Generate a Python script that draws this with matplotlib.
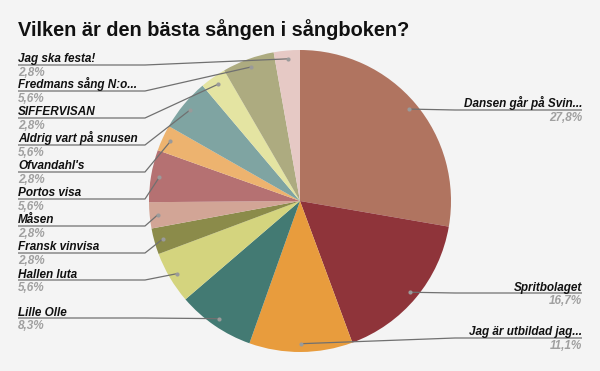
import numpy as np
import matplotlib
matplotlib.use("Agg")
import matplotlib.pyplot as plt

# data, in drawing order (clockwise from 12 o'clock)
songs = ["Dansen går på Svin...", "Spritbolaget", "Jag är utbildad jag...",
         "Lille Olle", "Hallen luta", "Fransk vinvisa", "Måsen", "Portos visa",
         "Ofvandahl's", "Aldrig vart på snusen", "SIFFERVISAN",
         "Fredmans sång N:o...", "Jag ska festa!"]
shares = [27.8, 16.7, 11.1, 8.3, 5.6, 2.8, 2.8, 5.6, 2.8, 5.6, 2.8, 5.6, 2.8]
colors = ["#B07460", "#8F343A", "#E89C3D", "#437A73", "#D4D47E", "#8B8B4A",
          "#D2A596", "#B57172", "#EDB36F", "#7FA4A2", "#E4E4A2", "#ADAB80",
          "#E6C9C5"]

# layout (pixels): label underline heights and which side they go on
right_side = [True, True, True] + [False] * 10
label_y = [110, 293, 338, 318, 280, 253, 226, 199, 172, 145, 118, 91, 65]

W, H = 600, 371
CX, CY, R = 300, 201, 151
BG = "#F4F4F4"
FS = 8.5

plt.rcParams["font.family"] = ["Liberation Sans", "DejaVu Sans"]


def px(x, y):
    return (x - CX) / R, (CY - y) / R


fig = plt.figure(figsize=(W / 100, H / 100), dpi=100, facecolor=BG)
ax = fig.add_axes([0, 0, 1, 1])
ax.set_facecolor(BG)

wedges, _ = ax.pie(shares, colors=colors, startangle=90, counterclock=False,
                   radius=1, wedgeprops=dict(edgecolor="none"))

# pie() resets the limits, so set them afterwards
ax.set_xlim(-CX / R, (W - CX) / R)
ax.set_ylim(-(H - CY) / R, CY / R)
ax.set_aspect("equal")
ax.axis("off")

for w, name, val, right, yu in zip(wedges, songs, shares, right_side, label_y):
    mid = np.deg2rad((w.theta1 + w.theta2) / 2)
    dx, dy = 0.945 * np.cos(mid), 0.945 * np.sin(mid)
    if right:
        x_text, x_elbow, ha = 582, 455, "right"
    else:
        x_text, x_elbow, ha = 18, 145, "left"
    p0 = px(x_text, yu)
    p1 = px(x_elbow, yu)
    ax.plot([p0[0], p1[0], dx], [p0[1], p1[1], dy], color="#707070", lw=0.9,
            zorder=3, solid_capstyle="butt")
    ax.plot(dx, dy, "o", color="#9A9A9A", ms=3, zorder=4, mec="none")
    tx, ty = px(x_text, yu - 2.5)
    ax.text(tx, ty, name, ha=ha, va="baseline", fontsize=FS,
            fontweight="bold", fontstyle="italic", color="#111111")
    tx, ty = px(x_text, yu + 11)
    ax.text(tx, ty, f"{val:.1f}%".replace(".", ","), ha=ha, va="baseline",
            fontsize=FS, fontweight="bold", fontstyle="italic", color="#A0A0A0")

tx, ty = px(18, 36)
ax.text(tx, ty, "Vilken är den bästa sången i sångboken?", ha="left",
        va="baseline", fontsize=14.4, fontweight="bold", color="#111111")

fig.savefig("out.png", dpi=100, facecolor=BG)
